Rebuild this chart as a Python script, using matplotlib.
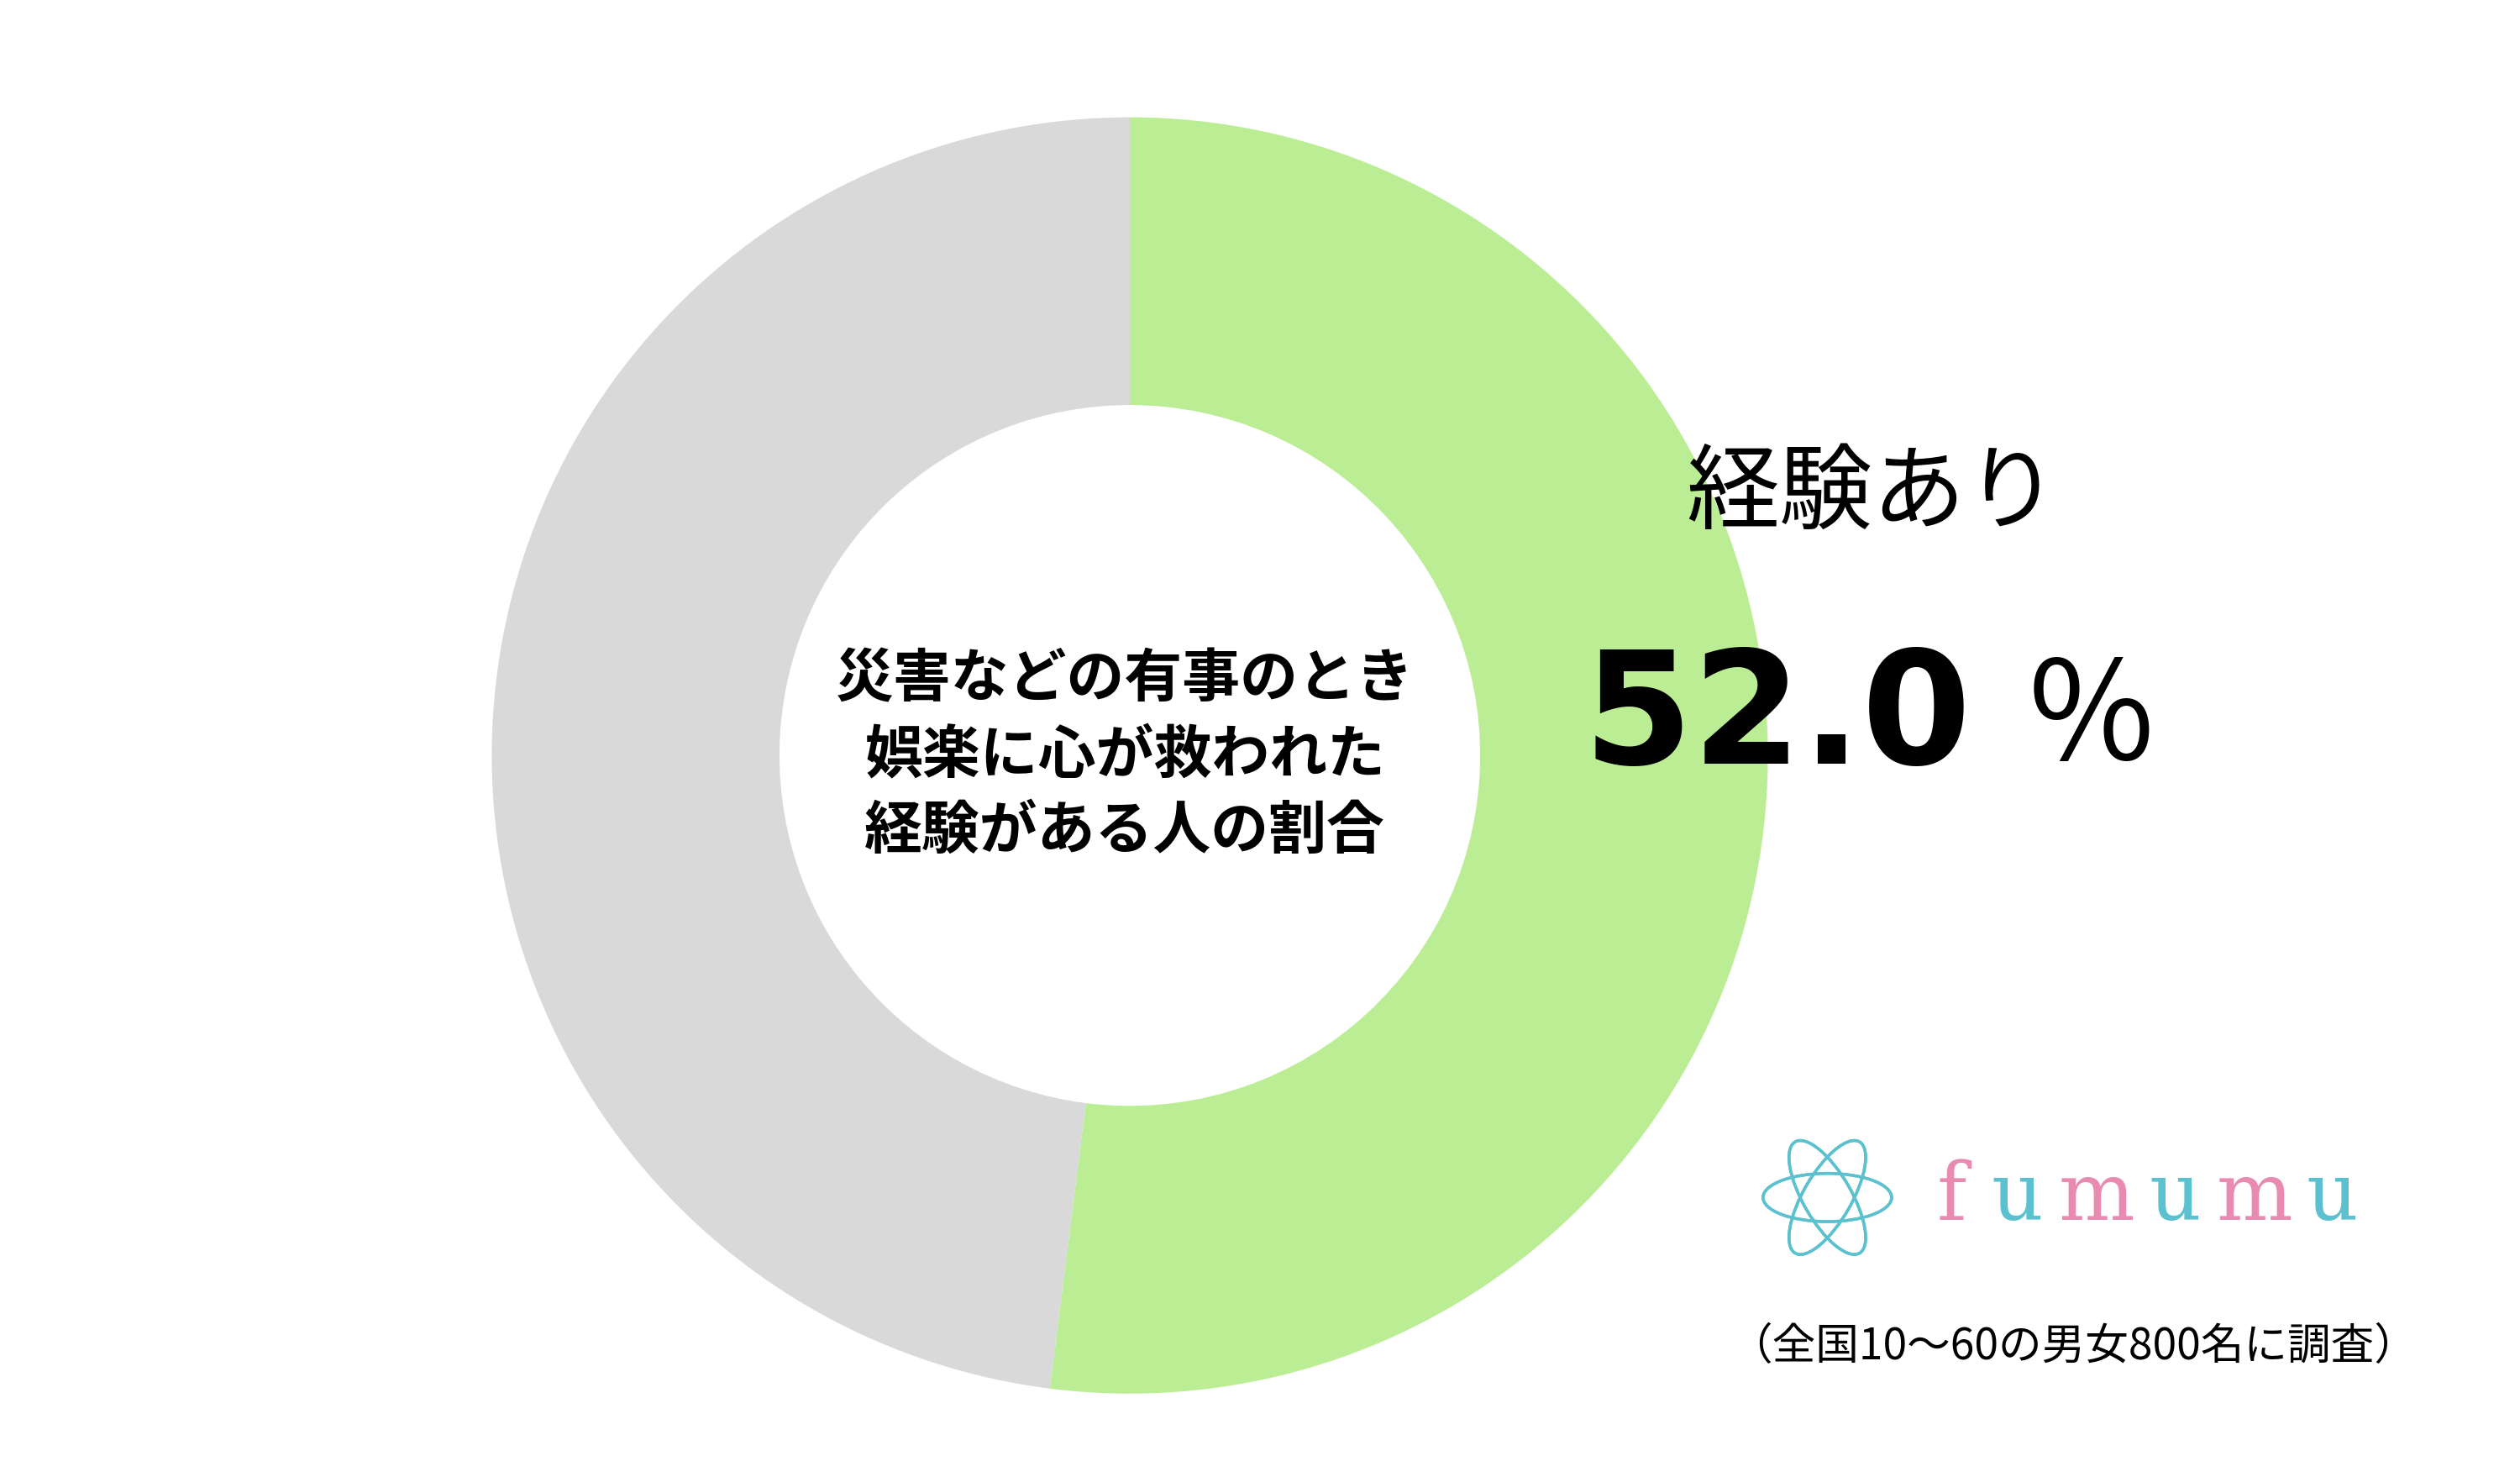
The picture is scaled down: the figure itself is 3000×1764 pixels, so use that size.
import matplotlib.pyplot as plt
from matplotlib.patches import Ellipse

plt.rcParams['font.family'] = ['Noto Sans CJK JP', 'DejaVu Sans']

labels = ['経験あり', 'なし']
values = [52.0, 48.0]
colors = ['#BBEE94', '#D9D9D9']
center_text = '災害などの有事のとき\n娯楽に心が救われた\n経験がある人の割合'
note = '（全国10〜60の男女800名に調査）'

W, H = 1568, 922
fig = plt.figure(figsize=(30, 30 * H / W), dpi=100)
ax = fig.add_axes([0, 0, 1, 1])
# y axis is inverted below: start at -90 (screen top), counterclock=True runs clockwise on screen
ax.pie(values, colors=colors, startangle=-90, counterclock=True,
       center=(703, 470), radius=397,
       wedgeprops=dict(width=397 - 218, linewidth=0))
ax.set_xlim(0, W)
ax.set_ylim(H, 0)
ax.set_aspect('equal')
ax.axis('off')

k = 1.377  # display px -> pt
ax.text(700, 470, center_text, ha='center', va='center', fontsize=36 * k,
        fontweight='bold', linespacing=1.35)
ax.text(1165, 308, labels[0], ha='center', va='center', fontsize=58 * k)
ax.text(985, 448, f'{values[0]:.1f}', ha='left', va='center', fontsize=98 * k,
        fontweight='bold', family='DejaVu Sans')
ax.text(1262, 448, '%', ha='left', va='center', fontsize=85 * k)
ax.text(1290, 838, note, ha='center', va='center', fontsize=27 * k)

# logo
x0 = 1205
for ch, c in zip('fumumu', ['#E98BB1', '#5CC1CF', '#E98BB1', '#5CC1CF', '#E98BB1', '#5CC1CF']):
    ax.text(x0, 745, ch, ha='left', va='center', fontsize=50 * k,
            family='DejaVu Serif', color=c)
    x0 += 34 if ch == 'f' else 56 if ch == 'm' else 42
for a in range(0, 360, 60):
    ax.add_patch(Ellipse((1137, 745), 80, 30, angle=a, fill=False,
                         edgecolor='#5CC1CF', linewidth=2.5))

fig.savefig('out.png')
